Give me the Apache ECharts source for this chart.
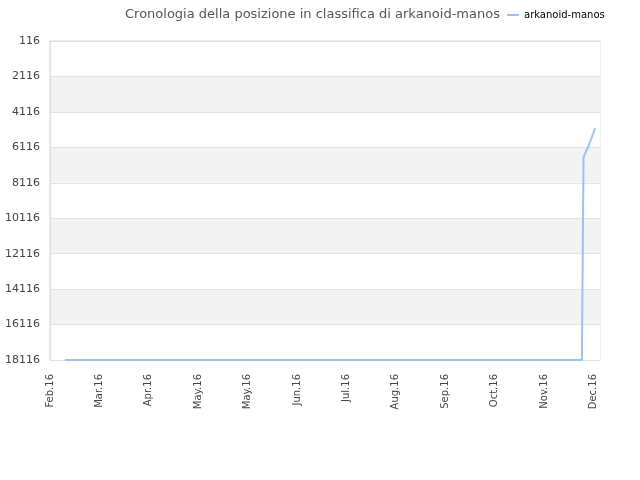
<!DOCTYPE html>
<html>
<head>
    <meta charset="utf-8">
    <title>arkanoid-manos</title>
    <script src="https://cdn.jsdelivr.net/npm/echarts@6/dist/echarts.min.js"></script>
    <style>
        html, body { margin: 0; padding: 0; background: #fff; }
        #main { width: 640px; height: 480px; }
    </style>
</head>
<body>
<div id="main"></div>
<script type="text/javascript">
// dati
var titolo = 'Cronologia della posizione in classifica di arkanoid-manos';
var nomeSerie = 'arkanoid-manos';
var date = ['2016-02-10', '2016-12-20', '2016-12-21', '2016-12-22', '2016-12-23', '2016-12-24', '2016-12-25', '2016-12-26', '2016-12-27', '2016-12-28'];
var posizioni = [18116, 18116, 6700, 6450, 6250, 6050, 5800, 5550, 5300, 5030];
var mesi = ['Jan', 'Feb', 'Mar', 'Apr', 'May', 'Jun', 'Jul', 'Aug', 'Sep', 'Oct', 'Nov', 'Dec'];

var inizio = Date.UTC(2016, 1, 1);   // primo tick
var giorno = 86400000;
var passoGiorni = 30;
var primaPos = 116, ultimaPos = 18116, passoPos = 2000;

function giorni(s) {
    var p = s.split('-');
    return Math.round((Date.UTC(+p[0], +p[1] - 1, +p[2]) - inizio) / giorno);
}

var dati = [];
for (var i = 0; i < date.length; i++) {
    dati.push([giorni(date[i]), posizioni[i] - primaPos]);
}

var myChart = echarts.init(document.getElementById('main'));
var option = {
    animation: false,
    title: {
        text: titolo,
        left: 120,
        top: 3,
        textStyle: { fontFamily: 'DejaVu Sans', fontSize: 13, fontWeight: 'normal', color: '#555' }
    },
    legend: {
        data: [nomeSerie],
        left: 502,
        top: 5,
        itemWidth: 12,
        itemHeight: 2,
        itemGap: 5,
        icon: 'rect',
        textStyle: { fontFamily: 'DejaVu Sans', fontSize: 10, color: '#000' }
    },
    grid: {
        left: 50,
        right: 40,
        top: 41,
        bottom: 120,
        show: true,
        borderColor: '#ddd',
        borderWidth: 1,
        containLabel: false
    },
    xAxis: {
        type: 'value',
        min: 0,
        max: 334,
        interval: passoGiorni,
        axisLine: { show: true, lineStyle: { color: '#ddd' } },
        axisTick: { show: false },
        splitLine: { show: false },
        axisLabel: {
            rotate: 90,
            showMaxLabel: false,
            fontFamily: 'DejaVu Sans',
            fontSize: 10,
            color: '#444',
            margin: 14,
            formatter: function (v) {
                var d = new Date(inizio + v * giorno);
                return mesi[d.getUTCMonth()] + '.' + String(d.getUTCFullYear()).slice(2);
            }
        }
    },
    yAxis: {
        type: 'value',
        inverse: true,
        min: 0,
        max: ultimaPos - primaPos,
        interval: passoPos,
        axisLine: { show: true, lineStyle: { color: '#ddd' } },
        axisTick: { show: false },
        splitLine: { show: true, lineStyle: { color: '#e3e3e3' } },
        splitArea: { show: true, areaStyle: { color: ['#ffffff', '#f3f3f3'] } },
        axisLabel: {
            fontFamily: 'DejaVu Sans',
            fontSize: 11,
            color: '#444',
            margin: 10,
            formatter: function (v) { return String(v + primaPos); }
        }
    },
    series: [{
        name: nomeSerie,
        type: 'line',
        data: dati,
        showSymbol: false,
        symbol: 'none',
        color: '#99c4f2',
        lineStyle: { width: 2, color: '#99c4f2' }
    }]
};
myChart.setOption(option);
</script>
</body>
</html>
